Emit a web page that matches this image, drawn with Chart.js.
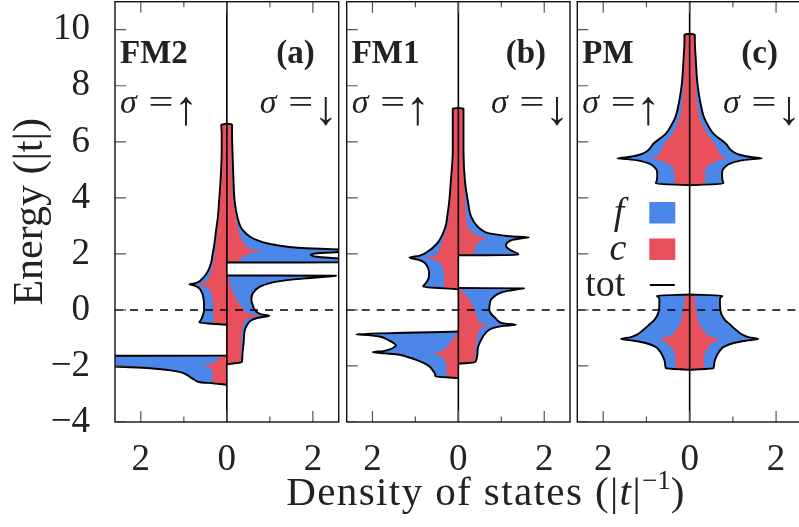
<!DOCTYPE html>
<html>
<head>
<meta charset="utf-8">
<script src="https://cdn.jsdelivr.net/npm/chart.js@4.4.1/dist/chart.umd.min.js"></script>
<style>
html,body{margin:0;padding:0;background:#fff;overflow:hidden;width:799px;height:527px;position:relative;}
canvas{position:absolute;top:0;}
#xt{position:absolute;left:486px;top:471px;transform:translateX(-50%);white-space:nowrap;
  font-family:'Liberation Serif','DejaVu Serif',serif;font-size:41px;line-height:41px;letter-spacing:1.4px;color:#222;}
#xt sup{font-size:27px;line-height:0;vertical-align:16px;letter-spacing:0;}
</style>
</head>
<body>
<canvas id="pa" width="342" height="527" style="left:0px"></canvas>
<canvas id="pb" width="232" height="527" style="left:342px"></canvas>
<canvas id="pc" width="233" height="527" style="left:573px"></canvas>
<div id="xt">Density of states (|<i>t</i>|<sup>&minus;1</sup>)</div>
<script>
// ---------- tick values ----------
const yTickValues = [-4, -2, 0, 2, 4, 6, 8, 10];
const xTickValues = [-2, -1, 0, 1, 2];
const xLabelValues = [-2, 0, 2];

// ---------- data: [energy, DOS magnitude] ----------
// Panel (a) FM2
const a_up_hi_tot = [[-0.53,0],[-0.45,0.64],[-0.35,0.6],[-0.24,0.57],[-0.1,0.54],[0,0.53],[0.2,0.53],[0.47,0.55],[0.62,0.58],[0.75,0.63],[0.83,0.7],[0.88,0.78],[0.91,0.87],[0.95,0.75],[1.0,0.66],[1.1,0.58],[1.3,0.47],[1.66,0.37],[2.0,0.33],[2.25,0.3],[2.85,0.25],[3.3,0.21],[3.9,0.18],[4.8,0.14],[5.7,0.12],[6.3,0.12],[6.6,0.13],[6.65,0]];
const a_up_hi_c   = [[-0.53,0],[-0.49,0.31],[0,0.31],[0.47,0.34],[0.71,0.4],[0.83,0.5],[0.88,0.6],[0.91,0.71],[0.95,0.55],[1.05,0.46],[1.19,0.41],[1.66,0.32],[2.25,0.26],[2.85,0.22],[3.9,0.16],[5.7,0.11],[6.6,0.12],[6.65,0]];
const a_up_lo_tot = [[-2.67,0],[-2.62,0.32],[-2.58,0.62],[-2.5,0.74],[-2.4,0.85],[-2.3,0.95],[-2.22,1.08],[-2.15,1.35],[-2.08,1.78],[-2.02,2.6],[-1.93,3.6],[-1.64,5],[-1.63,0]];
const a_up_lo_c   = [[-2.67,0],[-2.62,0.31],[-2.4,0.33],[-2.2,0.34],[-2.06,0.38],[-1.96,0.5],[-1.9,0.34],[-1.8,0.23],[-1.66,0.17],[-1.635,0.16],[-1.625,0]];
const a_dn_hi_tot = [[1.69,0],[1.70,4],[1.78,3.4],[1.84,2.6],[1.9,2.1],[1.96,1.95],[2.0,2.0],[2.04,2.3],[2.08,2.8],[2.11,3.3],[2.14,2.9],[2.17,2.4],[2.22,1.65],[2.3,1.2],[2.37,0.95],[2.49,0.7],[2.61,0.54],[2.85,0.37],[3.0,0.31],[3.5,0.22],[3.9,0.18],[4.8,0.15],[5.7,0.13],[6.4,0.12],[6.62,0.12],[6.65,0]];
const a_dn_hi_c   = [[1.69,0],[1.70,0.2],[1.8,0.3],[1.9,0.38],[2.0,0.5],[2.06,0.65],[2.11,0.85],[2.16,0.6],[2.25,0.46],[2.37,0.4],[2.6,0.31],[2.85,0.27],[3.5,0.19],[3.9,0.15],[5.7,0.11],[6.62,0.11],[6.65,0]];
const a_dn_lo_tot = [[-1.94,0],[-1.86,0.35],[-1.66,0.36],[-1.19,0.39],[-0.71,0.42],[-0.47,0.5],[-0.36,0.58],[-0.28,0.72],[-0.21,0.99],[-0.16,0.8],[-0.1,0.72],[0,0.65],[0.18,0.6],[0.36,0.57],[0.59,0.6],[0.83,0.77],[0.95,0.98],[1.01,1.16],[1.08,1.5],[1.13,1.86],[1.19,2.35],[1.22,2.54],[1.23,0]];
const a_dn_lo_c   = [[-1.94,0],[-1.86,0.32],[-1.2,0.34],[-0.7,0.36],[-0.47,0.4],[-0.32,0.48],[-0.21,0.74],[-0.13,0.5],[0,0.4],[0.2,0.3],[0.47,0.19],[0.8,0.1],[1.1,0.05],[1.225,0.03],[1.23,0]];

// Panel (b) FM1
const b_up_hi_tot = [[0.74,0],[0.83,0.82],[0.95,0.76],[1.07,0.71],[1.25,0.68],[1.42,0.69],[1.6,0.74],[1.72,0.82],[1.8,0.95],[1.87,1.14],[1.93,0.92],[2.0,0.8],[2.13,0.67],[2.3,0.54],[2.49,0.44],[2.97,0.3],[3.32,0.26],[3.91,0.21],[4.51,0.18],[5.69,0.13],[7.0,0.13],[7.18,0.13],[7.21,0]];
const b_up_hi_c   = [[0.74,0],[0.79,0.33],[1.2,0.33],[1.5,0.36],[1.7,0.45],[1.8,0.56],[1.87,0.75],[1.94,0.56],[2.13,0.45],[2.49,0.37],[2.97,0.26],[3.91,0.19],[5.69,0.12],[7.18,0.12],[7.21,0]];
const b_up_lo_tot = [[-2.43,0],[-2.37,0.53],[-2.31,0.54],[-2.15,0.6],[-2.02,0.67],[-1.9,0.8],[-1.78,0.98],[-1.68,1.18],[-1.6,1.37],[-1.55,1.7],[-1.51,1.99],[-1.47,1.75],[-1.4,1.58],[-1.32,1.49],[-1.27,1.45],[-1.19,1.5],[-1.07,1.64],[-0.95,1.84],[-0.9,2.1],[-0.87,2.38],[-0.77,0]];
const b_up_lo_c   = [[-2.43,0],[-2.38,0.28],[-2.0,0.28],[-1.8,0.32],[-1.65,0.4],[-1.58,0.5],[-1.54,0.6],[-1.48,0.42],[-1.35,0.29],[-1.2,0.2],[-1.0,0.1],[-0.82,0.03],[-0.78,0]];
const b_dn_hi_tot = [[1.95,0],[1.96,1.4],[2.01,1.38],[2.13,1.22],[2.25,1.12],[2.31,1.11],[2.4,1.14],[2.5,1.26],[2.56,1.48],[2.59,1.64],[2.63,1.2],[2.73,0.72],[2.85,0.55],[2.97,0.45],[3.32,0.3],[3.91,0.22],[4.51,0.16],[5.69,0.12],[7.0,0.12],[7.18,0.12],[7.21,0]];
const b_dn_hi_c   = [[1.95,0],[1.965,0.33],[2.1,0.36],[2.3,0.42],[2.45,0.5],[2.55,0.6],[2.59,0.68],[2.65,0.45],[2.8,0.3],[3.32,0.18],[3.91,0.16],[5.69,0.1],[7.18,0.11],[7.21,0]];
const b_dn_lo_tot = [[-1.92,0],[-1.87,0.39],[-1.42,0.45],[-1.07,0.53],[-0.8,0.65],[-0.65,0.8],[-0.57,1.05],[-0.53,1.34],[-0.48,1.05],[-0.4,0.93],[-0.3,0.87],[-0.15,0.77],[0,0.72],[0.2,0.73],[0.36,0.76],[0.5,0.85],[0.59,0.95],[0.68,1.15],[0.74,1.4],[0.77,1.53],[0.78,0]];
const b_dn_lo_c   = [[-1.92,0],[-1.875,0.36],[-1.4,0.4],[-1.0,0.44],[-0.75,0.48],[-0.6,0.55],[-0.53,0.68],[-0.45,0.5],[-0.3,0.44],[0,0.38],[0.36,0.26],[0.6,0.12],[0.76,0.04],[0.78,0]];

// Panel (c) PM (same for both spins)
const c_hi_tot = [[4.45,0],[4.51,0.78],[4.63,0.76],[4.8,0.75],[4.98,0.76],[5.1,0.82],[5.22,0.93],[5.32,1.15],[5.38,1.45],[5.41,1.67],[5.45,1.45],[5.52,1.2],[5.65,1.0],[5.93,0.84],[6.29,0.55],[6.6,0.42],[6.88,0.33],[7.47,0.24],[8.08,0.18],[9.0,0.14],[9.6,0.12],[9.82,0.12],[9.86,0]];
const c_hi_c   = [[4.45,0],[4.5,0.35],[4.9,0.35],[5.1,0.4],[5.25,0.55],[5.35,0.7],[5.41,0.86],[5.5,0.74],[5.7,0.66],[5.93,0.58],[6.29,0.4],[6.88,0.23],[7.47,0.17],[8.08,0.14],[9.0,0.12],[9.82,0.11],[9.86,0]];
const c_lo_tot = [[-2.14,0],[-2.08,0.55],[-1.9,0.57],[-1.66,0.62],[-1.45,0.7],[-1.3,0.81],[-1.18,1.02],[-1.1,1.3],[-1.04,1.59],[-0.98,1.38],[-0.9,1.24],[-0.71,1.07],[-0.5,0.92],[-0.36,0.82],[-0.2,0.75],[0,0.71],[0.36,0.7],[0.45,0.72],[0.51,0.76],[0.55,0]];
const c_lo_c   = [[-2.14,0],[-2.09,0.33],[-1.8,0.33],[-1.5,0.36],[-1.3,0.45],[-1.15,0.55],[-1.04,0.68],[-0.95,0.48],[-0.71,0.31],[-0.36,0.19],[0,0.15],[0.36,0.12],[0.52,0.1],[0.55,0]];

// ---------- style ----------
const SERIF = "'Liberation Serif','DejaVu Serif',serif";
const BLUE = '#4b87e8';
const RED = '#e8505c';
const INK = '#222';

function fmtY(v) { return v < 0 ? '\u2212' + Math.abs(v) : String(v); }

function toPoints(pairs, sign) { return pairs.map(p => ({ x: sign * p[1], y: p[0] })); }

function buildDatasets(cSets, totSets) {
  const ds = [];
  cSets.forEach(([pairs, sign]) => ds.push({
    data: toPoints(pairs, sign), fill: 'origin', backgroundColor: RED,
    borderWidth: 0, pointRadius: 0, pointHoverRadius: 0, cubicInterpolationMode: 'monotone'
  }));
  totSets.forEach(([pairs, sign]) => ds.push({
    data: toPoints(pairs, sign), fill: 'origin', backgroundColor: BLUE,
    borderColor: '#000', borderWidth: 1.9, borderJoinStyle: 'round',
    pointRadius: 0, pointHoverRadius: 0, cubicInterpolationMode: 'monotone'
  }));
  return ds;
}

function decor(cfg) {
  return {
    id: 'decor' + cfg.name,
    afterDatasetsDraw(chart) {
      const { ctx, chartArea: a, scales: { x, y } } = chart;
      const seg = (x1, y1, x2, y2) => { ctx.beginPath(); ctx.moveTo(x1, y1); ctx.lineTo(x2, y2); ctx.stroke(); };
      ctx.save();
      ctx.beginPath(); ctx.rect(a.left, a.top, a.right - a.left, a.bottom - a.top); ctx.clip();
      // zero energy dashed line
      const y0 = y.getPixelForValue(0);
      ctx.strokeStyle = '#000'; ctx.lineWidth = 1.5; ctx.setLineDash([8, 7]);
      seg(a.left, y0, a.right, y0);
      ctx.setLineDash([]);
      // zero DOS line
      const x0 = x.getPixelForValue(0);
      ctx.lineWidth = 1.6; seg(x0, a.top, x0, a.bottom);
      // inward ticks
      ctx.strokeStyle = '#555'; ctx.lineWidth = 1.2;
      yTickValues.forEach(v => { const py = y.getPixelForValue(v); seg(a.left, py, a.left + 11, py); });
      xTickValues.forEach(v => {
        const px = x.getPixelForValue(v); const len = (v % 2 === 0) ? 11 : 5.5;
        seg(px, a.top, px, a.top + len); seg(px, a.bottom, px, a.bottom - len);
      });
      ctx.restore();
      ctx.save();
      // frame
      ctx.strokeStyle = '#111'; ctx.lineWidth = 1.4;
      ctx.strokeRect(a.left, a.top, a.right - a.left, a.bottom - a.top);
      // labels
      ctx.fillStyle = INK; ctx.textBaseline = 'alphabetic';
      ctx.font = `bold 33px ${SERIF}`;
      ctx.textAlign = 'left'; ctx.fillText(cfg.name, a.left + 5, 63);
      ctx.textAlign = 'right'; ctx.fillText(cfg.tag, a.right - 24, 63);
      const sigma = (sx, arrow) => {
        ctx.textAlign = 'left'; ctx.font = `italic 34px ${SERIF}`; ctx.fillText('\u03c3', sx, 113);
        ctx.save(); ctx.translate(sx + 41, 113); ctx.scale(1.3, 1);
        ctx.textAlign = 'center'; ctx.font = `34px ${SERIF}`; ctx.fillText('=', 0, 0);
        ctx.restore();
        ctx.textAlign = 'center'; ctx.font = `48px ${SERIF}`; ctx.fillText(arrow, sx + 66, 124);
      };
      sigma(a.left + 5, '\u2191');
      sigma(a.right - 79, '\u2193');
      if (cfg.legend) {
        ctx.font = `italic 38px ${SERIF}`; ctx.textAlign = 'right';
        ctx.fillText('f', a.left + 47, 224);
        ctx.fillText('c', a.left + 49, 260);
        ctx.font = `38px ${SERIF}`;
        ctx.fillText('tot', a.left + 48, 296);
        ctx.fillStyle = BLUE; ctx.fillRect(a.left + 72, 202, 26, 21.5);
        ctx.fillStyle = RED; ctx.fillRect(a.left + 72, 238.5, 26, 21.5);
        ctx.strokeStyle = '#000'; ctx.lineWidth = 2; seg(a.left + 72.5, 285, a.left + 97.5, 285);
      }
      ctx.restore();
    }
  };
}

function makeChart(id, cfg) {
  const isA = cfg.yLabels;
  return new Chart(document.getElementById(id), {
    type: 'line',
    data: { datasets: buildDatasets(cfg.cSets, cfg.totSets) },
    plugins: [decor(cfg)],
    options: {
      indexAxis: 'y',
      responsive: false, animation: false, devicePixelRatio: 1,
      layout: { padding: cfg.padding },
      events: [],
      plugins: { legend: { display: false }, tooltip: { enabled: false }, title: { display: false },
                 filler: { drawTime: 'beforeDatasetsDraw' } },
      scales: {
        x: {
          type: 'linear', min: -2.6, max: 2.6, position: 'bottom',
          afterBuildTicks: s => { s.ticks = xTickValues.map(v => ({ value: v })); },
          afterFit: s => { s.height = 105; s.paddingLeft = 0; s.paddingRight = 0; s.paddingTop = 0; s.paddingBottom = 0; },
          grid: { display: false, drawTicks: false }, border: { display: false },
          ticks: { padding: 16, color: INK, autoSkip: false, maxRotation: 0,
                   font: { family: SERIF, size: 37 },
                   callback: v => xLabelValues.includes(v) ? String(Math.abs(v)) : '' }
        },
        y: {
          type: 'linear', min: -4, max: 11, display: isA,
          afterBuildTicks: s => { s.ticks = yTickValues.map(v => ({ value: v })); },
          afterFit: s => { s.width = isA ? 115 : 0; s.paddingLeft = 0; s.paddingRight = 0; s.paddingTop = 0; s.paddingBottom = 0; },
          grid: { display: false, drawTicks: false }, border: { display: false },
          ticks: { padding: 25, color: INK, autoSkip: false, font: { family: SERIF, size: 37 }, callback: v => fmtY(v) },
          title: { display: isA, text: 'Energy (|t|)', color: INK, font: { family: SERIF, size: 42 }, padding: { top: 6, bottom: 0 } }
        }
      }
    }
  });
}

makeChart('pa', {
  name: 'FM2', tag: '(a)', yLabels: true, legend: false,
  padding: { left: 0, right: 3.3, top: 1.7, bottom: 0 },
  cSets: [[a_up_hi_c, -1], [a_up_lo_c, -1], [a_dn_hi_c, 1], [a_dn_lo_c, 1]],
  totSets: [[a_up_hi_tot, -1], [a_up_lo_tot, -1], [a_dn_hi_tot, 1], [a_dn_lo_tot, 1]]
});
makeChart('pb', {
  name: 'FM1', tag: '(b)', yLabels: false, legend: false,
  padding: { left: 4.7, right: 4, top: 1.7, bottom: 0 },
  cSets: [[b_up_hi_c, -1], [b_up_lo_c, -1], [b_dn_hi_c, 1], [b_dn_lo_c, 1]],
  totSets: [[b_up_hi_tot, -1], [b_up_lo_tot, -1], [b_dn_hi_tot, 1], [b_dn_lo_tot, 1]]
});
makeChart('pc', {
  name: 'PM', tag: '(c)', yLabels: false, legend: true,
  padding: { left: 4.3, right: 4, top: 1.7, bottom: 0 },
  cSets: [[c_hi_c, -1], [c_lo_c, -1], [c_hi_c, 1], [c_lo_c, 1]],
  totSets: [[c_hi_tot, -1], [c_lo_tot, -1], [c_hi_tot, 1], [c_lo_tot, 1]]
});
</script>
</body>
</html>
